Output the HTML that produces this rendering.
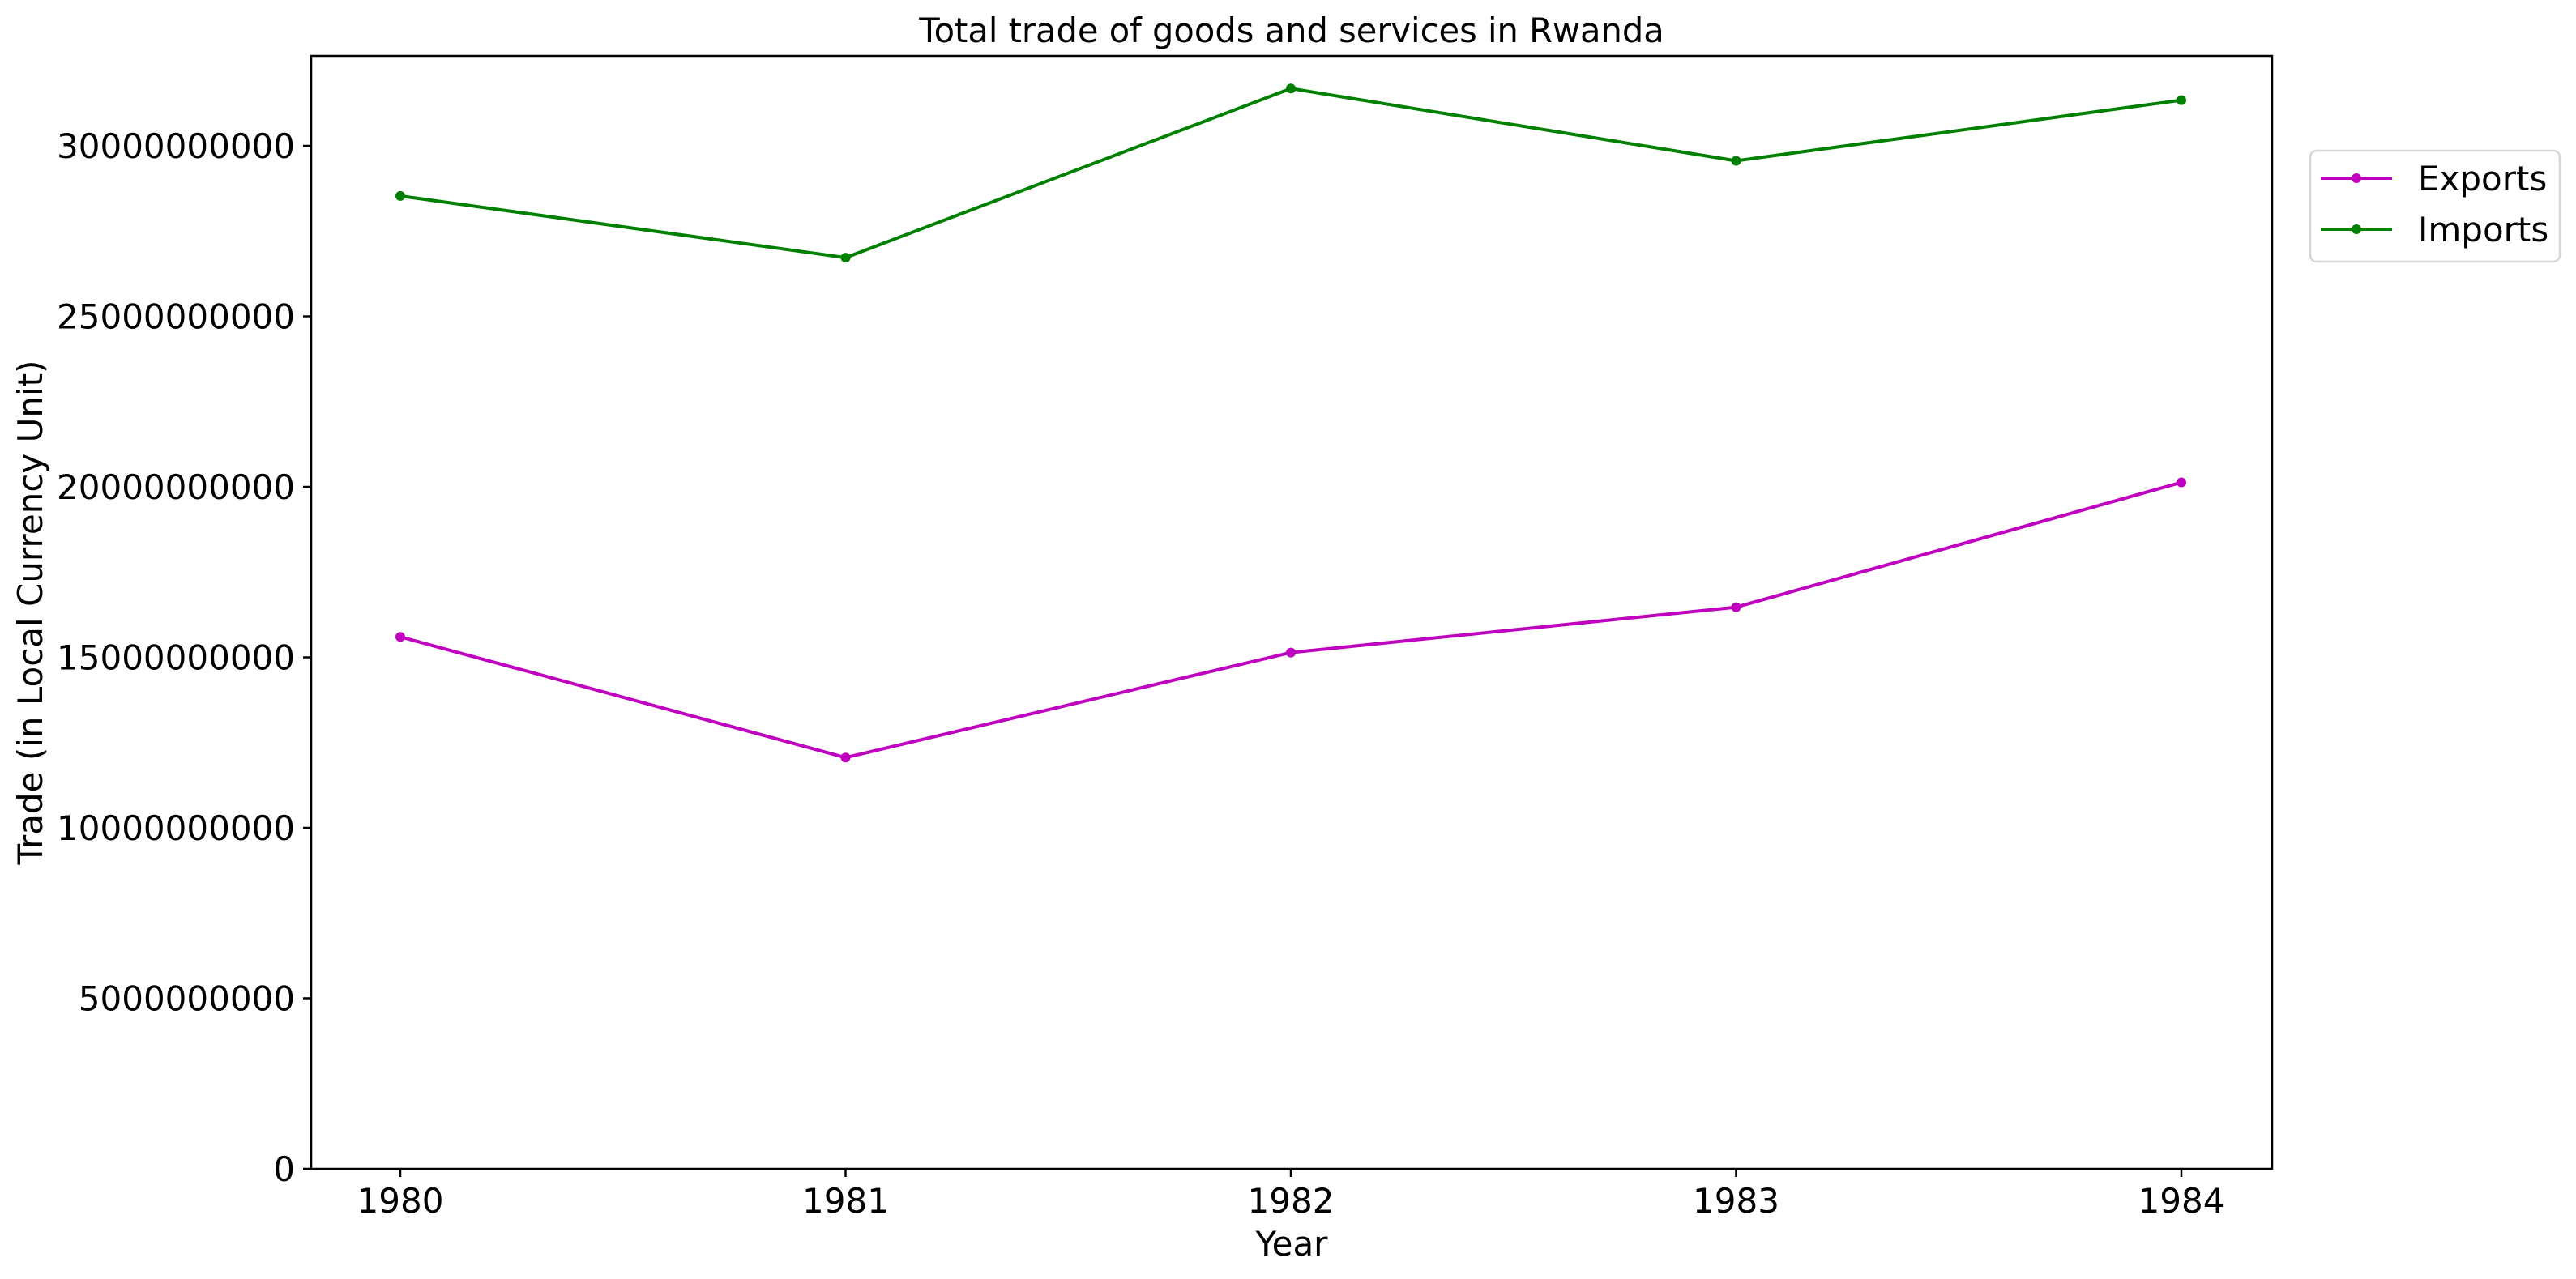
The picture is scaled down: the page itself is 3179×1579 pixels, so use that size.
<!DOCTYPE html>
<html><head><meta charset="utf-8"><style>
html,body{margin:0;padding:0;background:#fff;}
svg{display:block;font-family:"DejaVu Sans","Liberation Sans",sans-serif;}
</style></head><body>
<svg id="chart" width="3179" height="1579" viewBox="0 0 3179 1579">
<rect width="3179" height="1579" fill="#fff"/>
<text x="1594" y="52" font-size="41.6" text-anchor="middle">Total trade of goods and services in Rwanda</text>
<g id="plot"></g>
<rect x="384" y="69" width="2420" height="1374" fill="none" stroke="#000" stroke-width="2.5"/>
<text x="1594" y="1550" font-size="42" text-anchor="middle">Year</text>
<text transform="translate(52,756) rotate(-90)" font-size="42" text-anchor="middle">Trade (in Local Currency Unit)</text>
<g>
<rect x="2851" y="186" width="308" height="137" rx="8" fill="#fff" stroke="#d6d6d6" stroke-width="2.5"/>
<g>
<line x1="2864" y1="220" x2="2952" y2="220" stroke="#bf00bf" stroke-width="4"/>
<circle cx="2908" cy="220" r="6" fill="#bf00bf"/>
<text x="2984" y="235" font-size="42">Exports</text>
</g>
<g>
<line x1="2864" y1="283" x2="2952" y2="283" stroke="#008000" stroke-width="4"/>
<circle cx="2908" cy="283" r="6" fill="#008000"/>
<text x="2984" y="298" font-size="42">Imports</text>
</g>
</g>
</svg>
<script>
const years = ["1980","1981","1982","1983","1984"];
const exportsVals = [15.6e9, 12.06e9, 15.14e9, 16.47e9, 20.13e9];
const importsVals = [28.53e9, 26.72e9, 31.68e9, 29.56e9, 31.34e9];
const yTicks = [0, 5e9, 10e9, 15e9, 20e9, 25e9, 30e9];
const yTickLabels = ["0","5000000000","10000000000","15000000000","20000000000","25000000000","30000000000"];

const NS = "http://www.w3.org/2000/svg";
const plot = document.getElementById("plot");
const X0 = 494, XSTEP = 549.5;
const Y0 = 1443, YPER = 421 / 1e10;
function xs(i){ return X0 + i * XSTEP; }
function ys(v){ return Y0 - v * YPER; }
function mk(tag, attrs){ const e = document.createElementNS(NS, tag); for (const k in attrs) e.setAttribute(k, attrs[k]); plot.appendChild(e); return e; }

yTicks.forEach((v, i) => {
  const t = mk("line", {x1: 374, x2: 384, y1: ys(v), y2: ys(v), stroke: "#000", "stroke-width": 2.5});
  
  
  const l = mk("text", {x: 364, y: ys(v) + 15, "font-size": 42, "text-anchor": "end"});
  l.textContent = yTickLabels[i];
  
  
});
years.forEach((yr, i) => {
  const t = mk("line", {x1: xs(i), x2: xs(i), y1: 1443, y2: 1453, stroke: "#000", "stroke-width": 2.5});
  
  
  const l = mk("text", {x: xs(i), y: 1497, "font-size": 42, "text-anchor": "middle"});
  l.textContent = yr;
  
  
});
function series(vals, color, name){
  const p = mk("polyline", {points: vals.map((v, i) => xs(i) + "," + ys(v)).join(" "), fill: "none", stroke: color, "stroke-width": 4, "stroke-linejoin": "round"});
  
  
  vals.forEach((v, i) => {
    const c = mk("circle", {cx: xs(i), cy: ys(v), r: 6, fill: color});
    
    
  });
}
series(exportsVals, "#bf00bf", "exports");
series(importsVals, "#008000", "imports");
</script>
</body></html>
